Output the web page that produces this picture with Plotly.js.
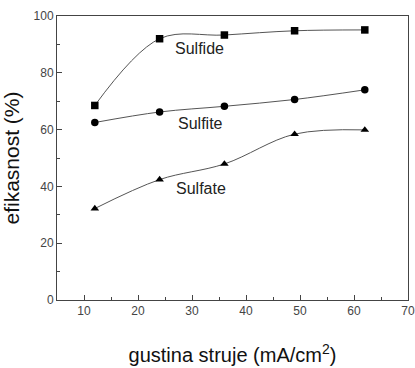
<!DOCTYPE html>
<html>
<head>
<meta charset="utf-8">
<script src="https://cdn.plot.ly/plotly-3.0.1.min.js"></script>
<style>html,body{margin:0;padding:0;background:#fff}#chart{width:415px;height:368px}</style>
</head>
<body>
<div id="chart"></div>
<script>
const currentDensity = [12, 24, 36, 49, 62];
const sulfide = [68.5, 92.0, 93.3, 94.8, 95.1];
const sulfite = [62.5, 66.2, 68.2, 70.6, 74.0];
const sulfate = [32.2, 42.4, 47.9, 58.4, 59.9];
const seriesNames = ["Sulfide", "Sulfite", "Sulfate"];
const labelPos = [[31.4, 88.7], [31.5, 62.1], [31.7, 39.2]];

const lineStyle = {color: '#555', width: 1, shape: 'spline', smoothing: 1};
function tr(y, sym, name) {
  return {x: currentDensity, y: y, name: name, mode: 'lines+markers', type: 'scatter',
    line: lineStyle, marker: {symbol: sym, size: 7.5, color: '#000'}};
}
const data = [
  tr(sulfide, 'square', seriesNames[0]),
  tr(sulfite, 'circle', seriesNames[1]),
  tr(sulfate, 'triangle-up', seriesNames[2])
];
const axisCommon = {
  showline: true, mirror: true, linecolor: '#444', linewidth: 1,
  ticks: 'inside', ticklen: 5, tickcolor: '#444', showgrid: false, zeroline: false,
  tickfont: {family: 'Liberation Sans, Arial, sans-serif', size: 12, color: '#444'}
};
const layout = {
  width: 415, height: 368,
  margin: {l: 57, r: 7, t: 16, b: 68},
  showlegend: false,
  paper_bgcolor: '#fff', plot_bgcolor: '#fff',
  xaxis: Object.assign({}, axisCommon, {
    range: [5, 70], dtick: 10, tick0: 0,
    minor: {dtick: 5, ticks: 'inside', ticklen: 3, tickcolor: '#444'},
    title: {text: 'gustina struje (mA/cm<sup>2</sup>)', font: {family: 'Liberation Sans, Arial, sans-serif', size: 20, color: '#111'}, standoff: 30}
  }),
  yaxis: Object.assign({}, axisCommon, {
    range: [0, 100], dtick: 20,
    minor: {dtick: 10, ticks: 'inside', ticklen: 3, tickcolor: '#444'},
    title: {text: 'efikasnost (%)', font: {family: 'Liberation Sans, Arial, sans-serif', size: 21, color: '#111'}, standoff: 9}
  }),
  annotations: seriesNames.map((n, i) => ({
    x: labelPos[i][0], y: labelPos[i][1], text: n, showarrow: false,
    font: {family: 'Liberation Sans, Arial, sans-serif', size: 16, color: '#222'}
  }))
};
Plotly.newPlot('chart', data, layout, {displayModeBar: false, staticPlot: true});
</script>
</body>
</html>
